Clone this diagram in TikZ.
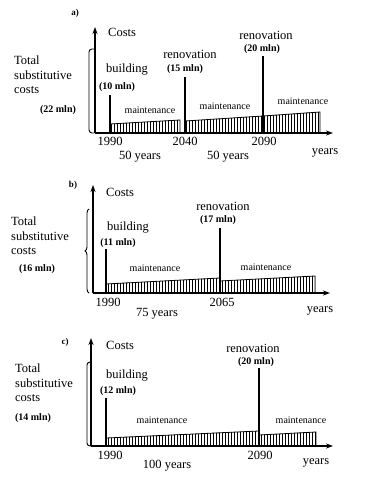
\documentclass[tikz,border=0pt]{standalone}
\usepackage{fontspec}
\setmainfont{Liberation Serif}
\usetikzlibrary{arrows.meta,patterns,decorations.pathreplacing}
\pgfdeclarepatternformonly{hatchlines}{\pgfpoint{-1pt}{-1pt}}{\pgfpoint{2pt}{2pt}}{\pgfpoint{3pt}{2pt}}{
  \pgfsetlinewidth{0.9pt}
  \pgfpathmoveto{\pgfpoint{0.5pt}{-1pt}}
  \pgfpathlineto{\pgfpoint{0.5pt}{2pt}}
  \pgfusepath{stroke}
}

\begin{document}
\begin{tikzpicture}[
  x=1pt, y=-1pt,
  every node/.style={inner sep=0pt},
  txt/.style={font=\fontsize{12.5}{14.5}\selectfont},
  mln/.style={font=\fontsize{10}{11}\selectfont\bfseries},
  mnt/.style={font=\fontsize{10}{11}\selectfont},
  tag/.style={font=\fontsize{9}{11}\selectfont\bfseries},
  axis/.style={-{Stealth[length=7pt,width=5pt]},line width=1.1pt},
  spike/.style={line width=1.2pt},
  maint/.style={draw,line width=0.8pt,pattern=hatchlines},
]
  \useasboundingbox (0,0) rectangle (372,480);

  % ---------- a) ----------
  \node[tag] (taga) at (75,13) {a)};
  \draw[axis] (95,133) -- (95,27);
  \draw[axis] (95,133) -- (333,133);
  \draw[line width=0.9pt,rounded corners=3pt] (94,49) -- (89,49) -- (89,133) -- (94,133);
  \node[txt,anchor=west] (costsa) at (108,32) {Costs};
  \node[txt,anchor=west,align=left] (totala) at (14,75) {Total\\substitutive\\costs};
  \node[mln] (suma) at (58,110) {(22 mln)};

  \draw[maint] (110,133) -- (110,124) -- (180,120) -- (180,133) -- cycle;
  \draw[maint] (185,133) -- (185,121) -- (263,116) -- (263,133) -- cycle;
  \draw[maint] (263,133) -- (263,116) -- (320,112) -- (320,133) -- cycle;
  \draw[spike] (110,133) -- (110,95);
  \draw[spike] (185,133) -- (185,77);
  \draw[spike] (263,133) -- (263,56);

  \node[txt] (builda) at (127,70) {building};
  \node[mln] (buildmlna) at (117,87) {(10 mln)};
  \node[txt] (renoa) at (190,54) {renovation};
  \node[mln] (renomlna) at (185,69) {(15 mln)};
  \node[txt] (renob) at (266,35) {renovation};
  \node[mln] (renomlnb) at (262,49) {(20 mln)};
  \node[mnt] (mnta) at (150,110) {maintenance};
  \node[mnt] (mntb) at (225,106) {maintenance};
  \node[mnt] (mntc) at (303,101) {maintenance};
  \node[txt] (ya1) at (110,141) {1990};
  \node[txt] (ya2) at (185,141) {2040};
  \node[txt] (ya3) at (264,141) {2090};
  \node[txt] (yearsa) at (325,153) {years};
  \node[txt] (spana) at (140,157) {50 years};
  \node[txt] (spanb) at (228,157) {50 years};

  % ---------- b) ----------
  \node[tag] (tagb) at (73,185) {b)};
  \draw[axis] (93,293) -- (93,185);
  \draw[axis] (93,293) -- (330,293);
  \draw[line width=0.9pt,decorate,decoration={brace,amplitude=4pt}] (89,293) -- (89,209);
  \node[txt,anchor=west] (costsb) at (106,192) {Costs};
  \node[txt,anchor=west,align=left] (totalb) at (11,236) {Total\\substitutive\\costs};
  \node[mln] (sumb) at (37,269) {(16 mln)};

  \draw[maint] (106,293) -- (106,284) -- (220,278) -- (220,293) -- cycle;
  \draw[maint] (220,293) -- (220,281) -- (315,276) -- (315,293) -- cycle;
  \draw[spike] (106,293) -- (106,249);
  \draw[spike] (220,293) -- (220,228);

  \node[txt] (buildb) at (128,228) {building};
  \node[mln] (buildmlnb) at (118,243) {(11 mln)};
  \node[txt] (renoc) at (223,206) {renovation};
  \node[mln] (renomlnc) at (218,220) {(17 mln)};
  \node[mnt] (mntd) at (155,268) {maintenance};
  \node[mnt] (mnte) at (266,267) {maintenance};
  \node[txt] (yb1) at (108,302) {1990};
  \node[txt] (yb2) at (222,302) {2065};
  \node[txt] (yearsb) at (320,311) {years};
  \node[txt] (spanc) at (157,314) {75 years};

  % ---------- c) ----------
  \node[tag] (tagc) at (65,342) {c)};
  \draw[axis] (91,446) -- (91,338);
  \draw[axis] (91,446) -- (333,446);
  \draw[line width=0.9pt,rounded corners=3pt] (91,362) -- (87,362) -- (87,446) -- (91,446);
  \node[txt,anchor=west] (costsc) at (106,345) {Costs};
  \node[txt,anchor=west,align=left] (totalc) at (15,383) {Total\\substitutive\\costs};
  \node[mln] (sumc) at (33,418) {(14 mln)};

  \draw[maint] (106,446) -- (106,438) -- (259,431) -- (259,446) -- cycle;
  \draw[maint] (259,446) -- (259,435) -- (316,432) -- (316,446) -- cycle;
  \draw[spike] (106,446) -- (106,398);
  \draw[spike] (259,446) -- (259,368);

  \node[txt] (buildc) at (127,376) {building};
  \node[mln] (buildmlnc) at (118,391) {(12 mln)};
  \node[txt] (renod) at (253,348) {renovation};
  \node[mln] (renomlnd) at (256,362) {(20 mln)};
  \node[mnt] (mntf) at (162,420) {maintenance};
  \node[mnt] (mntg) at (301,420) {maintenance};
  \node[txt] (yc1) at (110,455) {1990};
  \node[txt] (yc2) at (260,455) {2090};
  \node[txt] (yearsc) at (316,463) {years};
  \node[txt] (spand) at (167,466) {100 years};
\end{tikzpicture}
\end{document}
